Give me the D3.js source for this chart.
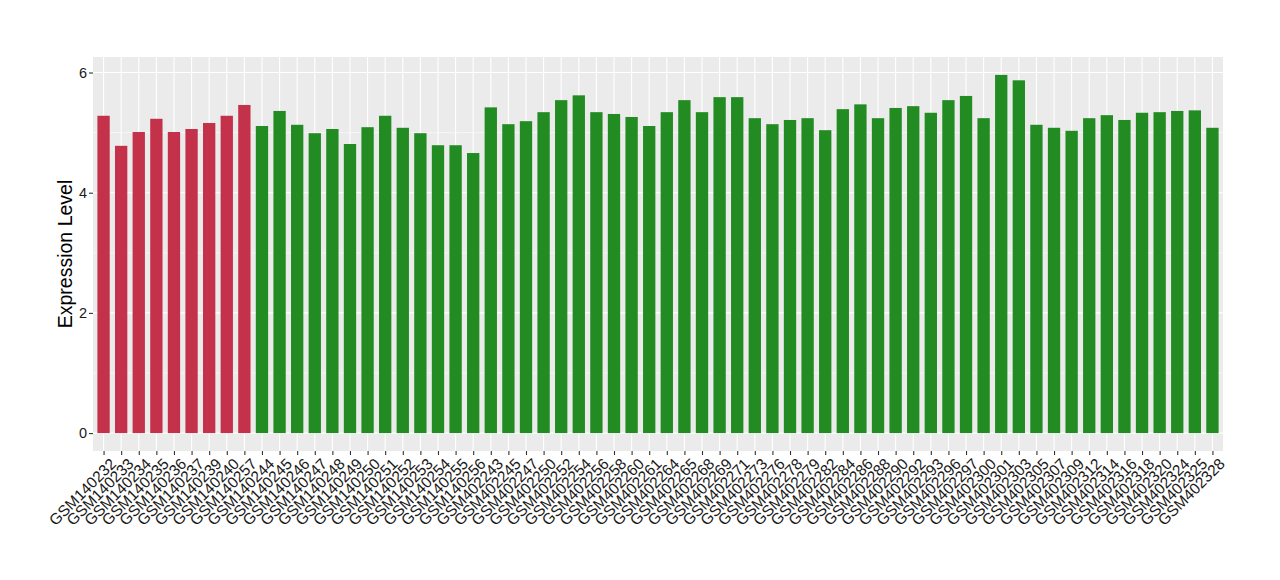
<!DOCTYPE html>
<html lang="en">
<head>
<meta charset="UTF-8">
<script src="https://cdn.jsdelivr.net/npm/d3@7"></script>
<title>Expression Level</title>
<style>
  body { margin: 0; background: #fff; }
  text { font-family: "Liberation Sans", Arial, sans-serif; }
</style>
</head>
<body>
<script>
// samples, in plot order
const samples = [
  "GSM140232","GSM140233","GSM140234","GSM140235","GSM140236","GSM140237","GSM140239","GSM140240","GSM140257",
  "GSM140244","GSM140245","GSM140246","GSM140247","GSM140248","GSM140249","GSM140250","GSM140251","GSM140252",
  "GSM140253","GSM140254","GSM140255","GSM140256",
  "GSM402243","GSM402245","GSM402247","GSM402250","GSM402252","GSM402254","GSM402256","GSM402258","GSM402260",
  "GSM402261","GSM402264","GSM402265","GSM402268","GSM402269","GSM402271","GSM402273","GSM402276","GSM402278",
  "GSM402279","GSM402282","GSM402284","GSM402286","GSM402288","GSM402290","GSM402292","GSM402293","GSM402296",
  "GSM402297","GSM402300","GSM402301","GSM402303","GSM402305","GSM402307","GSM402309","GSM402312","GSM402314",
  "GSM402316","GSM402318","GSM402320","GSM402324","GSM402325","GSM402328"
];
const values = [
  5.28,4.78,5.01,5.23,5.01,5.06,5.16,5.28,5.46,
  5.11,5.36,5.13,4.99,5.06,4.81,5.09,5.28,5.08,
  4.99,4.79,4.79,4.66,
  5.42,5.14,5.19,5.34,5.54,5.62,5.34,5.31,5.26,
  5.11,5.34,5.54,5.34,5.59,5.59,5.24,5.14,5.21,
  5.24,5.04,5.39,5.47,5.24,5.41,5.44,5.33,5.54,
  5.61,5.24,5.96,5.87,5.13,5.08,5.03,5.24,5.29,
  5.21,5.33,5.34,5.36,5.37,5.08
];
// first 9 samples are group 1 (red), the rest group 2 (green)
const groups = samples.map((s, i) => i < 9 ? "g1" : "g2");
const groupColors = { g1: "#c3324a", g2: "#228b22" };
const yTicks = [0, 2, 4, 6];
const yMinor = [1, 3, 5];

const W = 1280, H = 580;
const panel = { left: 93, right: 1223, top: 57, bottom: 451 };

const svg = d3.select("body").append("svg")
  .attr("width", W).attr("height", H);

// discrete scale with ggplot-like 0.6 expansion on each side
const n = samples.length;
const step = (panel.right - panel.left) / (n - 1 + 1.2);
const x = d3.scalePoint()
  .domain(samples)
  .range([panel.left + 0.6 * step, panel.right - 0.6 * step]);
const barW = step * 0.7;

const ymax = d3.max(values);
const y = d3.scaleLinear()
  .domain([-0.05 * ymax, ymax * 1.05])
  .range([panel.bottom, panel.top]);

// panel background
svg.append("rect")
  .attr("x", panel.left).attr("y", panel.top)
  .attr("width", panel.right - panel.left)
  .attr("height", panel.bottom - panel.top)
  .attr("fill", "#ebebeb");

const grid = svg.append("g");
grid.selectAll(".minor").data(yMinor).join("line")
  .attr("x1", panel.left).attr("x2", panel.right)
  .attr("y1", d => y(d)).attr("y2", d => y(d))
  .attr("stroke", "#fff").attr("stroke-width", 0.55);
grid.selectAll(".major").data(yTicks).join("line")
  .attr("x1", panel.left).attr("x2", panel.right)
  .attr("y1", d => y(d)).attr("y2", d => y(d))
  .attr("stroke", "#fff").attr("stroke-width", 1.1);
grid.selectAll(".vmajor").data(samples).join("line")
  .attr("x1", d => x(d)).attr("x2", d => x(d))
  .attr("y1", panel.top).attr("y2", panel.bottom)
  .attr("stroke", "#fff").attr("stroke-width", 1.1);

// bars
svg.append("g").selectAll("rect")
  .data(samples)
  .join("rect")
  .attr("x", d => x(d) - barW / 2)
  .attr("width", barW)
  .attr("y", (d, i) => y(values[i]))
  .attr("height", (d, i) => y(0) - y(values[i]))
  .attr("fill", (d, i) => groupColors[groups[i]]);

// y axis
const yAxis = svg.append("g")
  .attr("transform", `translate(${panel.left},0)`)
  .call(d3.axisLeft(y).tickValues(yTicks).tickFormat(d3.format("d")).tickSize(4).tickPadding(2))
  .attr("font-size", 14.5)
  .attr("font-family", "Liberation Sans, Arial, sans-serif");
yAxis.select(".domain").remove();
yAxis.selectAll(".tick line").attr("stroke", "#333").attr("stroke-width", 1.1);
yAxis.selectAll(".tick text").attr("fill", "#1a1a1a");

// x axis
const xAxis = svg.append("g")
  .attr("transform", `translate(0,${panel.bottom})`)
  .call(d3.axisBottom(x).tickSize(4).tickPadding(2))
  .attr("font-size", 15.5)
  .attr("font-family", "Liberation Sans, Arial, sans-serif");
xAxis.select(".domain").remove();
xAxis.selectAll(".tick line").attr("stroke", "#333").attr("stroke-width", 1.1);
xAxis.selectAll(".tick text")
  .attr("fill", "#1a1a1a")
  .attr("text-anchor", "end")
  .attr("dy", null)
  .attr("y", 0)
  .attr("transform", "translate(5,6) rotate(-45)")
  .attr("dominant-baseline", "hanging");

// y title
svg.append("text")
  .attr("transform", `translate(72,${(panel.top + panel.bottom) / 2}) rotate(-90)`)
  .attr("text-anchor", "middle")
  .attr("font-size", 19.5)
  .attr("fill", "#000")
  .text("Expression Level");
</script>
</body>
</html>
